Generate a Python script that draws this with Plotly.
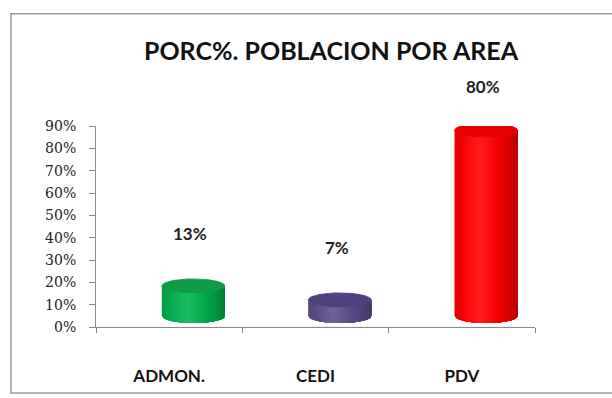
import numpy as np
import plotly.graph_objects as go

# ---- data ----
categories = ["ADMON.", "CEDI", "PDV"]
values = [13, 7, 80]          # percent
labels = ["13%", "7%", "80%"]
y_ticks = [0, 10, 20, 30, 40, 50, 60, 70, 80, 90]
y_tick_text = [f"{t}%" for t in y_ticks]

# ---- styles ----
body_colors = [(0, 176, 80), (94, 76, 140), (255, 0, 0)]
top_colors = ["#0f9c45", "#4f3f7f", "#e60000"]
title_text = "PORC%. POBLACION POR AREA"

W, H = 612, 398
L, R, T, B = 96, 77, 126, 68
PW, PH = W - L - R, H - T - B

bar_shift = 0.165   # 3D depth shift in category units
half_w = 0.215      # half bar width
ry = 3.0            # ellipse semi-axis in y2 units
Y2_RANGE = [-4.7, 81.8]

def shade(rgb, u):
    d = abs(u + 0.2)
    k = 1.0 - 0.28 * (d / 1.2) ** 2.2
    hl = max(0.0, 1 - d / 0.6) * 0.12
    out = []
    for c in rgb:
        c2 = c * k
        c2 = c2 + (255 - c2) * hl
        out.append(int(min(255, c2)))
    return "rgb({},{},{})".format(*out)

fig = go.Figure()

# base category axis trace (invisible, establishes categories)
fig.add_trace(go.Bar(x=categories, y=[0, 0, 0], marker_color="rgba(0,0,0,0)",
                     hoverinfo="skip", showlegend=False))

nstrip = 30
for i, v in enumerate(values):
    cx = i + bar_shift
    us = np.linspace(-1, 1, nstrip + 1)
    for j in range(nstrip):
        u0, u1 = us[j], us[j + 1]
        uu = np.linspace(u0, 1, 40)
        xs_b = cx + half_w * uu
        ys_b = -ry * np.sqrt(np.clip(1 - uu ** 2, 0, 1))
        xs_t = xs_b[::-1]
        ys_t = v - ry * np.sqrt(np.clip(1 - uu[::-1] ** 2, 0, 1))
        xs = np.concatenate([xs_b, xs_t, xs_b[:1]])
        ys = np.concatenate([ys_b, ys_t, ys_b[:1]])
        col = shade(body_colors[i], (u0 + u1) / 2)
        fig.add_trace(go.Scatter(x=xs, y=ys, xaxis="x2", yaxis="y2", mode="lines",
                                 fill="toself", fillcolor=col,
                                 line=dict(width=0),
                                 hoverinfo="skip", showlegend=False))
    # top ellipse
    t = np.linspace(0, 2 * np.pi, 80)
    fig.add_trace(go.Scatter(x=cx + half_w * np.cos(t), y=v + ry * np.sin(t),
                             xaxis="x2", yaxis="y2", mode="lines", fill="toself",
                             fillcolor=top_colors[i],
                             line=dict(width=0.8, color=top_colors[i]),
                             hoverinfo="skip", showlegend=False))
    # data label
    fig.add_annotation(x=cx - 0.02, y=v, xref="x2", yref="y2", text=labels[i],
                       showarrow=False, yshift=52 if i < 2 else 44,
                       font=dict(family="Lato, Open Sans, sans-serif", size=17,
                                 color="#222222", weight="bold"))

# outer frame
def px_to_paper_x(px):
    return (px - L) / PW

def px_to_paper_y(py):
    return (H - B - py) / PH

fig.add_shape(type="rect", xref="paper", yref="paper",
              x0=px_to_paper_x(11), x1=px_to_paper_x(W + 20),
              y0=px_to_paper_y(397), y1=px_to_paper_y(12),
              line=dict(color="#9a9a9a", width=1.5), fillcolor="rgba(0,0,0,0)",
              layer="below")

fig.update_layout(
    width=W, height=H,
    margin=dict(l=L, r=R, t=T, b=B),
    paper_bgcolor="white", plot_bgcolor="white",
    showlegend=False,
    title=dict(text=title_text, x=(331 - L) / PW, xref="paper", xanchor="center",
               y=(H - 51) / H, yanchor="middle",
               font=dict(family="Lato, Open Sans, sans-serif", size=25,
                         color="#111111", weight="bold")),
    xaxis=dict(type="category", showgrid=False, showline=True, linecolor="#8a8a8a",
               linewidth=1, ticks="outside", tickson="boundaries", ticklen=5,
               tickcolor="#8a8a8a", ticklabelstandoff=34,
               tickfont=dict(family="Lato, Open Sans, sans-serif", size=17,
                             color="#111111", weight="bold"),
               range=[-0.5, 2.5], fixedrange=True),
    yaxis=dict(range=[0, 90], tickmode="array", tickvals=y_ticks, ticktext=y_tick_text,
               showgrid=False, showline=True, linecolor="#8a8a8a", linewidth=1,
               ticks="outside", ticklen=6, tickcolor="#8a8a8a", ticklabelstandoff=10,
               zeroline=False,
               tickfont=dict(family="DejaVu Serif, serif", size=14, color="#222222")),
    xaxis2=dict(overlaying="x", range=[-0.5, 2.5], visible=False, fixedrange=True),
    yaxis2=dict(overlaying="y", range=Y2_RANGE, visible=False, fixedrange=True),
)

fig.write_html("out.html")
